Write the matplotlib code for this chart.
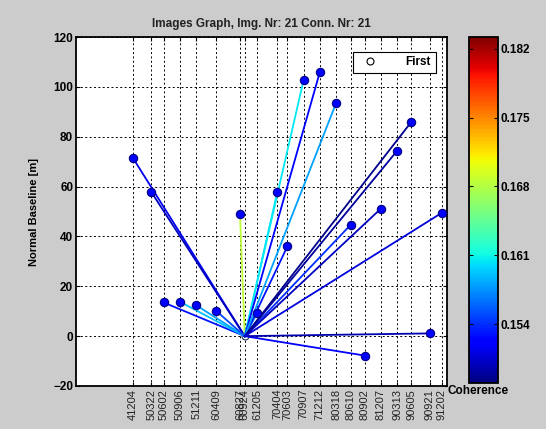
import numpy as np
import pandas as pd
import matplotlib
matplotlib.use("Agg")
import matplotlib.pyplot as plt
import matplotlib.dates as mdates
from matplotlib.colors import Normalize
from matplotlib.lines import Line2D

plt.rcParams['font.family'] = ['Liberation Sans', 'DejaVu Sans']

MASTER_DATE = "2006-09-24"
MASTER_BASELINE = 0.0

SLAVE_DATES = [
    "2004-12-04", "2005-03-22", "2005-06-02", "2005-09-06", "2005-12-11",
    "2006-04-09", "2006-08-27", "2006-12-05", "2007-04-04", "2007-06-03",
    "2007-09-07", "2007-12-12", "2008-03-18", "2008-06-10", "2008-09-02",
    "2008-12-07", "2009-03-13", "2009-06-05", "2009-09-21", "2009-12-02",
]
SLAVE_BASELINES = [
    71.3, 57.7, 13.5, 13.8, 12.4,
    10.1, 48.8, 9.1, 57.7, 36.0,
    102.8, 106.0, 93.7, 44.6, -7.8,
    51.2, 74.4, 86.0, 1.1, 49.5,
]
COHERENCE = [
    0.1515, 0.1500, 0.1530, 0.1590, 0.1580,
    0.1550, 0.1684, 0.1570, 0.1600, 0.1530,
    0.1605, 0.1520, 0.1580, 0.1540, 0.1520,
    0.1500, 0.1490, 0.1485, 0.1495, 0.1510,
]
TICK_DATES = [
    "2004-12-04", "2005-03-22", "2005-06-02", "2005-09-06", "2005-12-11",
    "2006-04-09", "2006-08-27", "2006-09-24", "2006-12-05", "2007-04-04",
    "2007-06-03", "2007-09-07", "2007-12-12", "2008-03-18", "2008-06-10",
    "2008-09-02", "2008-12-07", "2009-03-13", "2009-06-05", "2009-09-21",
    "2009-12-02",
]
TICK_LABELS = [
    "41204", "50322", "50602", "50906", "51211",
    "60409", "60827", "60924", "61205", "70404",
    "70603", "70907", "71212", "80318", "80610",
    "80902", "81207", "90313", "90605", "90921",
    "91202",
]
CBAR_TICKS = [0.154, 0.161, 0.168, 0.175, 0.182]
CBAR_RANGE = (0.148, 0.1832)

BG = '#cccccc'

fig = plt.figure(figsize=(5.46, 4.29), dpi=100, facecolor=BG)
ax = fig.add_axes([76/546, 43/429, 371/546, 349/429])
cax = fig.add_axes([469/546, 46/429, 29/546, 346/429])

norm = Normalize(*CBAR_RANGE)
cmap = plt.get_cmap('jet')

x_master = mdates.date2num(pd.Timestamp(MASTER_DATE))
x_slaves = mdates.date2num(pd.to_datetime(SLAVE_DATES))

# one connection per slave image, coloured by coherence
for xs, b, c in zip(x_slaves, SLAVE_BASELINES, COHERENCE):
    ax.plot([x_master, xs], [MASTER_BASELINE, b], color=cmap(norm(c)), lw=1.3, zorder=3)

ax.plot(x_slaves, SLAVE_BASELINES, 'o', ms=6, mfc='#0000ff', mec='#000080',
        mew=0.8, zorder=4, linestyle='none')
ax.plot([x_master], [MASTER_BASELINE], 'o', ms=5, mfc='white', mec='#203060',
        mew=0.8, zorder=2, linestyle='none')

ax.set_xlim(mdates.date2num(pd.Timestamp("2004-01-01")),
            mdates.date2num(pd.Timestamp("2010-01-01")))
ax.set_ylim(-20, 120)
ax.set_yticks(np.arange(-20, 121, 20))
ax.set_xticks(mdates.date2num(pd.to_datetime(TICK_DATES)))
ax.set_xticklabels(TICK_LABELS, rotation=90, fontsize=8, color='#222222')
for lab in ax.get_yticklabels():
    lab.set_fontweight('bold')
    lab.set_fontsize(8.5)
ax.tick_params(direction='in', top=True, right=True, length=3, width=0.8, pad=2)
ax.grid(True, color='black', linestyle=(0, (2, 2.5)), lw=0.7)
for s in ax.spines.values():
    s.set_linewidth(1.3)

ax.set_ylabel('Normal Baseline [m]', fontsize=8, fontweight='bold', labelpad=10)
ax.set_title('Images Graph, Img. Nr: 21 Conn. Nr: 21', fontsize=8.5,
             fontweight='bold', pad=7, color='#222222')

leg_handle = Line2D([], [], marker='o', ls='none', mfc='white', mec='black',
                    ms=5, mew=0.8)
leg = ax.legend([leg_handle], ['First'], loc='upper right', fancybox=False,
                framealpha=1, edgecolor='black', prop={'weight': 'bold', 'size': 8.5},
                handletextpad=2.0, borderpad=0.4, bbox_to_anchor=(0.985, 0.975))
leg.get_frame().set_linewidth(0.8)

cb = matplotlib.colorbar.ColorbarBase(cax, cmap=cmap, norm=norm, ticks=CBAR_TICKS)
cb.ax.set_yticklabels([f'{t:.3f}' for t in CBAR_TICKS], fontweight='bold', fontsize=8.5)
cb.ax.tick_params(direction='in', left=True, right=True, length=3, width=0.8, pad=2)
cb.outline.set_linewidth(1.3)

fig.text(448/546, 1 - 391/429, 'Coherence', fontsize=8.5, fontweight='bold',
         ha='left', va='center')

fig.savefig('out.png', dpi=100, facecolor=BG)
